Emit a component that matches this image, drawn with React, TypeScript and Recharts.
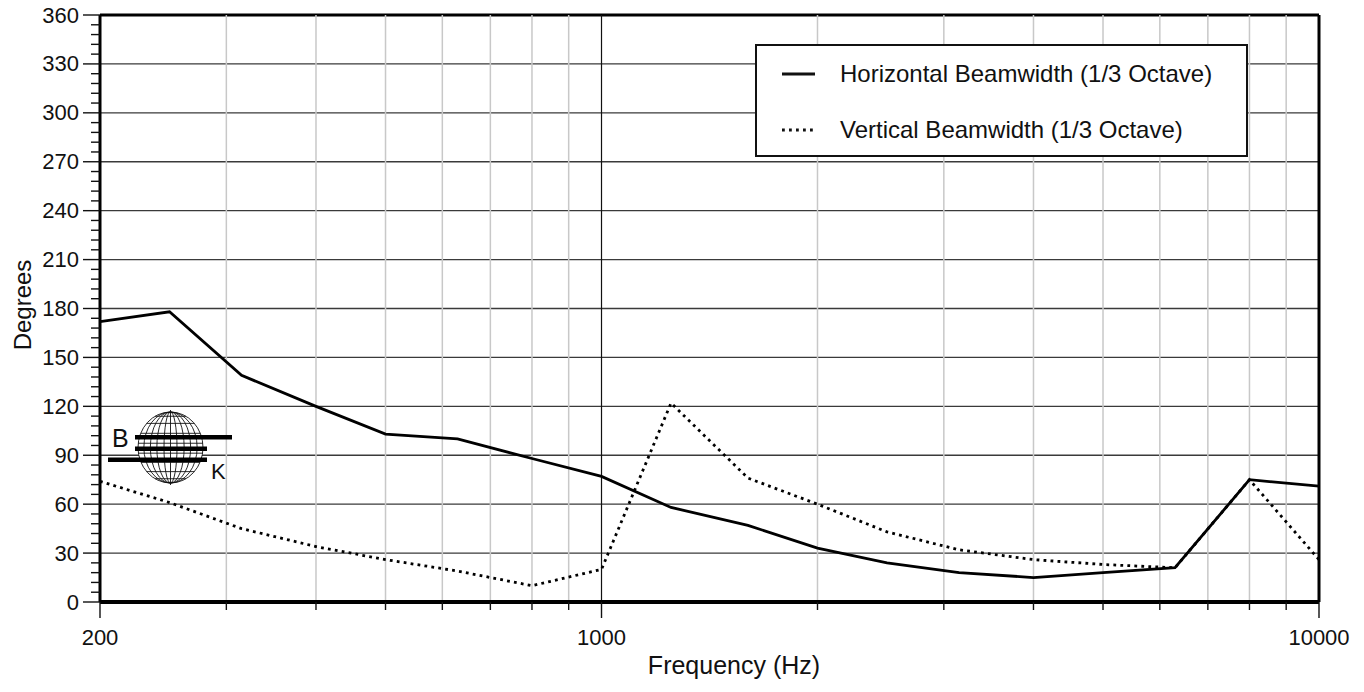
import { LineChart, Line, XAxis, YAxis, CartesianGrid, Legend, Customized } from 'recharts'

// 1/3-octave band centres and measured beamwidths (degrees)
const FREQS = [200, 250, 315, 400, 500, 630, 800, 1000, 1250, 1600, 2000, 2500, 3150, 4000, 5000, 6300, 8000, 10000]
const HORIZONTAL_DEG = [172, 178, 139, 120, 103, 100, 88, 77, 58, 47, 33, 24, 18, 15, 18, 21, 75, 71]
const VERTICAL_DEG = [74, 61, 45, 34, 26, 19, 10, 20, 122, 76, 60, 43, 32, 26, 23, 21, 75, 26]

const X_DOMAIN = [200, 10000]
const X_TICKS = [200, 300, 400, 500, 600, 700, 800, 900, 1000, 2000, 3000, 4000, 5000, 6000, 7000, 8000, 9000, 10000]
const X_LABELS = [200, 1000, 10000]
const Y_MAJOR = [0, 30, 60, 90, 120, 150, 180, 210, 240, 270, 300, 330, 360]
const Y_SUBDIV = 5
const Y_TICKS = Y_MAJOR.slice(0, -1).flatMap((v, i) => {
  const step = (Y_MAJOR[i + 1] - v) / Y_SUBDIV
  return Array.from({ length: Y_SUBDIV }, (_, k) => v + k * step)
}).concat(Y_MAJOR[Y_MAJOR.length - 1])
const Y_DOMAIN = [0, 360]

const H_NAME = 'Horizontal Beamwidth (1/3 Octave)'
const V_NAME = 'Vertical Beamwidth (1/3 Octave)'

const hData = FREQS.map((hz, i) => ({ hz, deg: HORIZONTAL_DEG[i] }))
const vData = FREQS.map((hz, i) => ({ hz, deg: VERTICAL_DEG[i] }))

const FONT = '"Liberation Sans", Arial, sans-serif'
const DOTS = '2.8 4.2'

function YTick({ x, y, payload }: any) {
  const major = Y_MAJOR.includes(payload.value)
  return (
    <g>
      <line x1={x - (major ? 17 : 9)} x2={x} y1={y} y2={y} stroke="#111" strokeWidth={1.4} />
      {major && (
        <text x={x - 21} y={y} textAnchor="end" dominantBaseline="central" fontSize={22} fontFamily={FONT} fill="#111">
          {payload.value}
        </text>
      )}
    </g>
  )
}

function XTick({ x, y, payload }: any) {
  const labelled = X_LABELS.includes(payload.value)
  return (
    <g>
      <line x1={x} x2={x} y1={y} y2={y + (labelled ? 16 : 8)} stroke="#111" strokeWidth={1.4} />
      {labelled && (
        <text x={x} y={y + 35} textAnchor="middle" dominantBaseline="central" fontSize={22} fontFamily={FONT} fill="#111">
          {payload.value}
        </text>
      )}
    </g>
  )
}

const near = (a: number, b: number) => Math.abs(a - b) / b < 0.01

// grid line renderers: recover the tick value from the line position inside the plot box
function hGridLine(p: any) {
  const v = Y_DOMAIN[0] + ((p.y + p.height - p.y1) / p.height) * (Y_DOMAIN[1] - Y_DOMAIN[0])
  const line = (stroke: string, w: number) => (
    <line x1={p.x1} x2={p.x2} y1={p.y1} y2={p.y2} stroke={stroke} strokeWidth={w} />
  )
  if (v > Y_DOMAIN[1] - 1) return line('#000', 3)
  if (v < 1) return <g />
  const major = Y_MAJOR.some((m) => Math.abs(m - v) < 1)
  return major ? line('#3a3a3a', 1.4) : <g />
}

function vGridLine(p: any) {
  const v = X_DOMAIN[0] * Math.pow(X_DOMAIN[1] / X_DOMAIN[0], (p.x1 - p.x) / p.width)
  const line = (stroke: string, w: number) => (
    <line x1={p.x1} x2={p.x2} y1={p.y1} y2={p.y2} stroke={stroke} strokeWidth={w} />
  )
  if (near(v, X_DOMAIN[0])) return <g />
  if (near(v, X_DOMAIN[1])) return line('#000', 3)
  if (near(v, 1000)) return line('#111', 1.2)
  return line('#c8c8c8', 1.5)
}

function LegendBox() {
  const rows = [
    { name: H_NAME, dash: undefined },
    { name: V_NAME, dash: DOTS },
  ]
  return (
    <div style={{ width: 493, height: 113, boxSizing: 'border-box', border: '2.5px solid #111', background: '#fff', position: 'relative' }}>
      {rows.map((r, i) => (
        <div key={r.name} style={{ position: 'absolute', left: 22, top: 14 + i * 56, height: 28, display: 'flex', alignItems: 'center' }}>
          <svg width={40} height={10}>
            <line x1={3} x2={36} y1={5} y2={5} stroke="#111" strokeWidth={2.8} strokeDasharray={r.dash} />
          </svg>
          <span style={{ marginLeft: 21, fontSize: 24, fontFamily: FONT, color: '#111', whiteSpace: 'nowrap' }}>{r.name}</span>
        </div>
      ))}
    </div>
  )
}

// B&K globe badge with titles for both axes
function Decorations() {
  const cx = 170.5
  const cy = 447.5
  const rx = 32.5
  const ry = 35.5
  const meridians = [0.2, 0.42, 0.62, 0.82]
  const parallels = [-0.88, -0.68, -0.4, -0.12, 0.16, 0.42, 0.68, 0.88]
  return (
    <g>
      <g stroke="#111" strokeWidth={0.9} fill="none">
        <ellipse cx={cx} cy={cy} rx={rx} ry={ry} fill="#fff" />
        {meridians.map((k) => (
          <ellipse key={k} cx={cx} cy={cy} rx={rx * k} ry={ry} />
        ))}
        <line x1={cx} x2={cx} y1={cy - ry - 2} y2={cy + ry + 2} />
        {parallels.map((k) => {
          const yy = cy + ry * k
          const half = rx * Math.sqrt(1 - k * k)
          return <line key={k} x1={cx - half} x2={cx + half} y1={yy} y2={yy} />
        })}
      </g>
      <rect x={135} y={435} width={97} height={4.5} fill="#000" />
      <rect x={135} y={446.5} width={72} height={4.5} fill="#000" />
      <rect x={108} y={457.5} width={99} height={4.5} fill="#000" />
      <text x={112} y={447} fontSize={25} fontFamily={FONT} fill="#111">B</text>
      <text x={211} y={479} fontSize={22} fontFamily={FONT} fill="#111">K</text>

      <text x={22} y={305} transform="rotate(-90 22 305)" textAnchor="middle" dominantBaseline="central" fontSize={24} fontFamily={FONT} fill="#111">
        Degrees
      </text>
      <text x={734} y={665} textAnchor="middle" dominantBaseline="central" fontSize={25} fontFamily={FONT} fill="#111">
        Frequency (Hz)
      </text>
    </g>
  )
}

export default function App() {
  return (
    <div style={{ width: 1364, height: 692, background: '#fff' }}>
      <style>{'body{margin:0;background:#fff}'}</style>
      <LineChart width={1364} height={692} margin={{ top: 15, right: 45, bottom: 0, left: 0 }}>
        <CartesianGrid horizontal={hGridLine} vertical={vGridLine} />
        <XAxis
          dataKey="hz"
          type="number"
          scale="log"
          domain={X_DOMAIN}
          ticks={X_TICKS}
          interval={0}
          allowDataOverflow
          height={90}
          tickSize={0}
          tickMargin={0}
          tickLine={false}
          tick={<XTick />}
          axisLine={{ stroke: '#000', strokeWidth: 4 }}
        />
        <YAxis
          type="number"
          domain={Y_DOMAIN}
          ticks={Y_TICKS}
          interval={0}
          width={100}
          tickSize={0}
          tickMargin={0}
          tickLine={false}
          tick={<YTick />}
          axisLine={{ stroke: '#000', strokeWidth: 3 }}
        />
        <Legend
          layout="horizontal"
          verticalAlign="middle"
          align="center"
          wrapperStyle={{ left: 755, top: 44, width: 493, height: 113 }}
          content={<LegendBox />}
        />
        <Line data={hData} dataKey="deg" name={H_NAME} type="linear" stroke="#000" strokeWidth={2.8} dot={false} isAnimationActive={false} />
        <Line data={vData} dataKey="deg" name={V_NAME} type="linear" stroke="#000" strokeWidth={2.8} strokeDasharray={DOTS} dot={false} isAnimationActive={false} />
        <Customized component={<Decorations />} />
      </LineChart>
    </div>
  )
}
